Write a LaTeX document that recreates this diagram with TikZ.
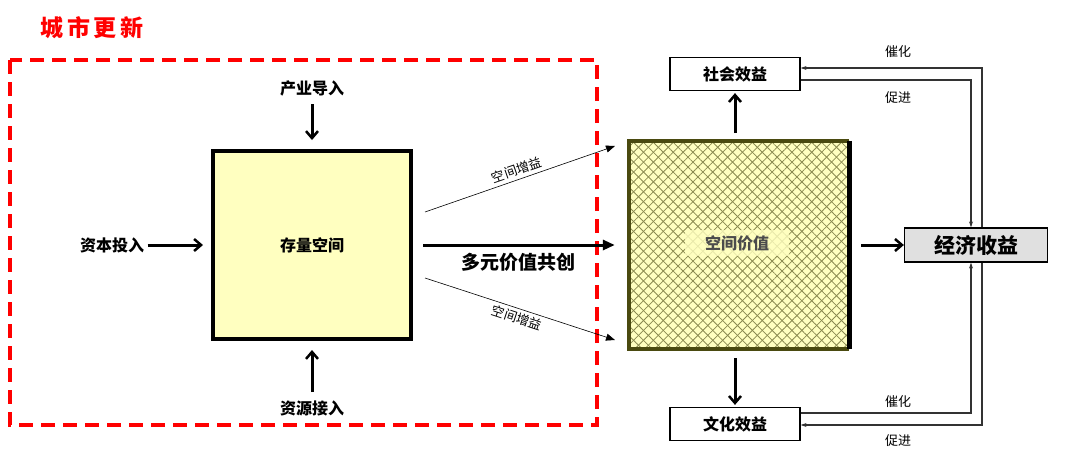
\documentclass[tikz,border=0pt]{standalone}
\usepackage{fontspec}
\newfontfamily\cjk{Noto Sans CJK SC}
\usetikzlibrary{arrows.meta,patterns.meta}
\definecolor{lyel}{HTML}{FFFFC0}
\definecolor{olivedk}{HTML}{4A4A10}
\definecolor{hatch}{HTML}{8A8A50}
\begin{document}
\begin{tikzpicture}[x=1pt,y=-1pt,font=\cjk,
  bigarrow/.style={-{Straight Barb[length=7pt,width=12pt,line width=2.5pt]},line width=3pt},
  thinarrow/.style={-{Triangle[length=9pt,width=7pt]},line width=0.6pt},
  fb/.style={-{Stealth[length=6pt,width=4pt]},line width=1.5pt,draw=black!80},
  box/.style={draw=black,line width=1.2pt,fill=white,minimum width=130pt,minimum height=33pt,font=\cjk\bfseries\fontsize{16}{16}\selectfont},
  lbl/.style={font=\cjk\bfseries\fontsize{16}{16}\selectfont},
  small/.style={font=\cjk\fontsize{13}{13}\selectfont}]
\useasboundingbox (0,0) rectangle (1080,469);
\node[text=red,font=\cjk\bfseries\fontsize{23}{23}\selectfont] (title) at (92,28) {城\,市\,更\,新};
\draw[red,line width=4pt,dash pattern=on 14pt off 8pt] (10,60) rectangle (597,425);
% stock box
\node[draw=black,line width=4pt,fill=lyel,minimum width=198pt,minimum height=188pt,font=\cjk\bfseries\fontsize{16}{16}\selectfont] (stock) at (312,245) {存量空间};
\node[lbl] (ind) at (312,88) {产业导入};
\node[lbl] (cap) at (112,245) {资本投入};
\node[lbl] (res) at (312,408) {资源接入};
\coordinate (indA) at (312,104); \coordinate (indB) at (312,140);
\coordinate (resA) at (312,392); \coordinate (resB) at (312,350);
\draw[bigarrow] (indA) -- (indB);
\draw[bigarrow] (cap.east) -- ([xshift=-8pt]stock.west);
\draw[bigarrow] (resA) -- (resB);
% value box
\node[minimum width=220pt,minimum height=208pt] (val) at (739,245) {};
\fill[lyel] (val.south west) rectangle (val.north east);
\fill[pattern={Lines[angle=45,distance=7pt,line width=0.8pt]},pattern color=hatch] (val.south west) rectangle (val.north east);
\fill[pattern={Lines[angle=-45,distance=7pt,line width=0.8pt]},pattern color=hatch] (val.south west) rectangle (val.north east);
\draw[olivedk,line width=4pt] (val.north east) -- (val.north west) -- (val.south west) -- (val.south east);
\draw[black,line width=5pt] (val.north east) -- (val.south east);
\node[fill=lyel,fill opacity=0.8,text opacity=1,inner xsep=20pt,inner ysep=5pt,font=\cjk\bfseries\fontsize{16}{16}\selectfont,text=black!70] (valt) at (737,243) {空间价值};
% middle arrows
\coordinate (a1) at (425,212); \coordinate (b1) at (615,146);
\coordinate (a2) at (425,278); \coordinate (b2) at (615,340);
\draw[thinarrow] (a1) -- node[sloped,above,small,pos=0.5] {空间增益} (b1);
\draw[thinarrow] (a2) -- node[sloped,below,small,pos=0.5] {空间增益} (b2);
\draw[-{Triangle[length=12pt,width=10pt]},line width=3pt] ([xshift=10pt]stock.east) -- node[below=3pt,font=\cjk\bfseries\fontsize{19}{19}\selectfont] {多元价值共创} ([xshift=-14pt]val.west);
% effects
\node[box] (soc) at (735,74) {社会效益};
\node[box] (cul) at (735,424) {文化效益};
\node[box,fill=black!12,minimum width=143pt,minimum height=34pt,font=\cjk\bfseries\fontsize{21}{21}\selectfont] (eco) at (976,245) {经济收益};
\coordinate (socA) at (735,133); \coordinate (culA) at (735,358);
\draw[bigarrow] (socA) -- ([yshift=-2pt]soc.south);
\draw[bigarrow] (culA) -- ([yshift=2pt]cul.north);
\draw[bigarrow] ([xshift=12pt]val.east) -- (eco.west);
% feedback
\draw[fb] (eco.north -| 982,0) |- (soc.east |- 0,68);
\draw[fb] (soc.east |- 0,80) -| (eco.north -| 971,0);
\draw[fb] (cul.east |- 0,413) -| (eco.south -| 971,0);
\draw[fb] (eco.south -| 982,0) |- (cul.east |- 0,425);
\node[small] (c1) at (898,52) {催化};
\node[small] (p1) at (898,98) {促进};
\node[small] (c2) at (898,402) {催化};
\node[small] (p2) at (898,441) {促进};
\end{tikzpicture}
\end{document}
